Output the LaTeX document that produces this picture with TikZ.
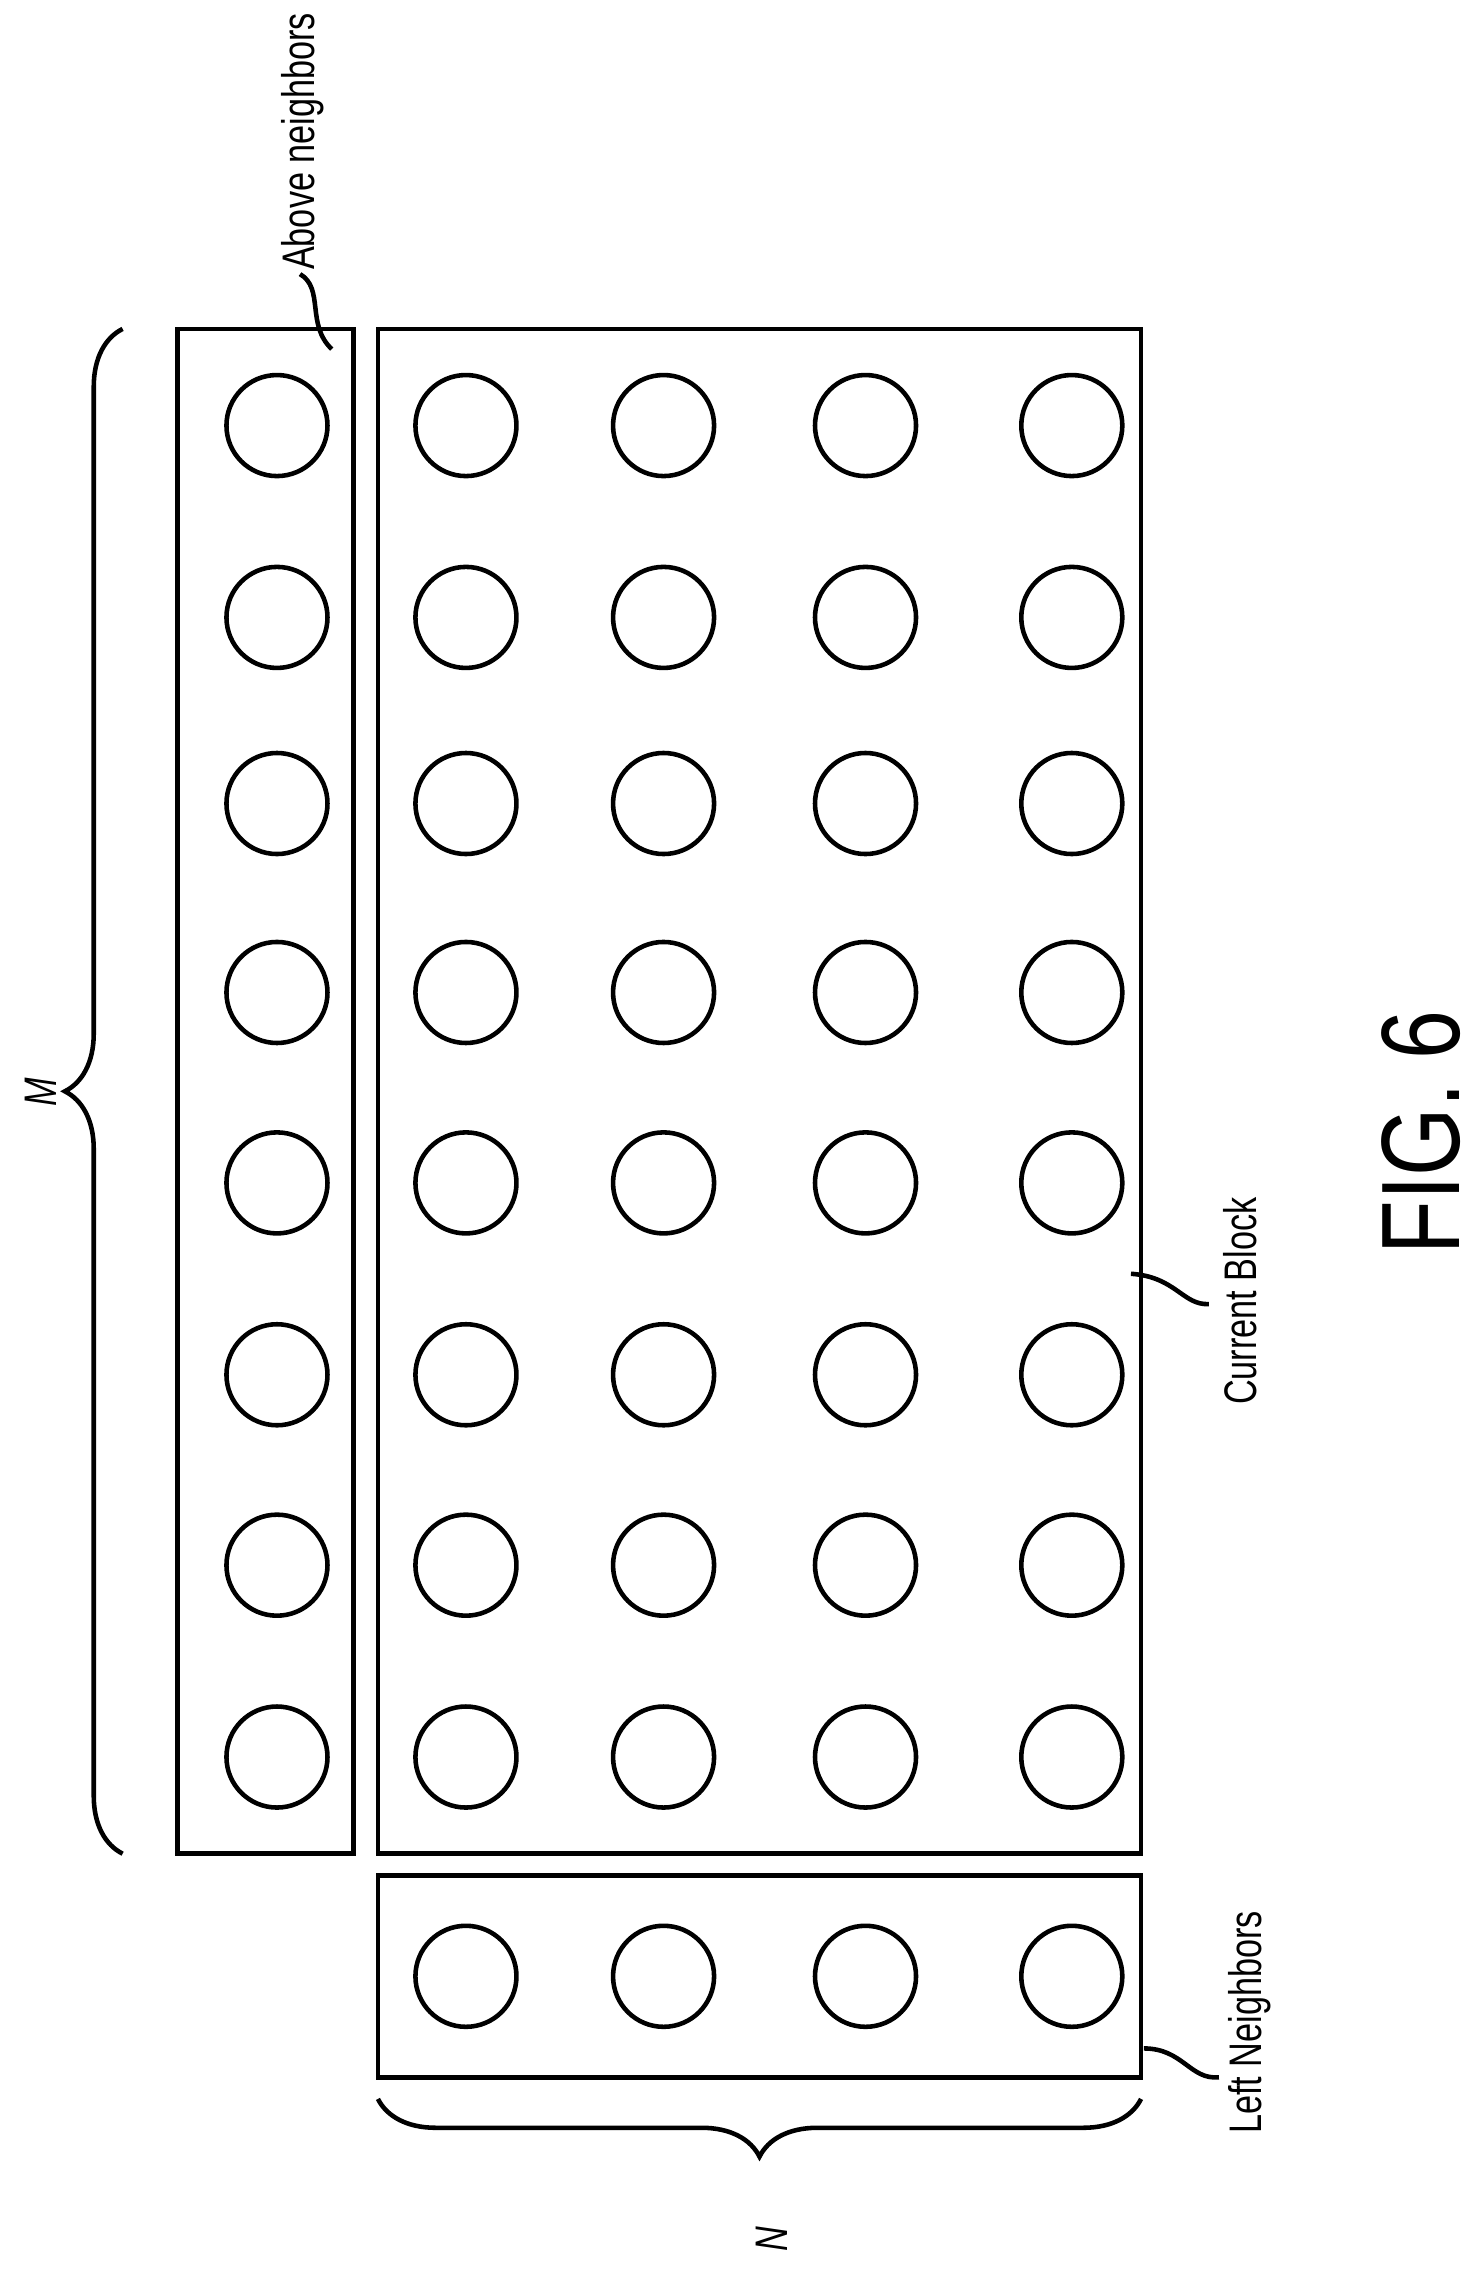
\documentclass[tikz,border=0pt]{standalone}
\usepackage{fontspec}
\setmainfont{Liberation Sans}
\usetikzlibrary{decorations.pathreplacing}
\tikzset{every picture/.style={line width=0.9pt}}
\tikzset{pixel/.style={circle,draw,minimum size=0.7cm,inner sep=0pt},
  lbl/.style={rotate=90,xscale=0.75,font=\fontsize{9}{11}\selectfont,inner sep=0pt}}

\begin{document}
\begin{tikzpicture}[x=0.01cm,y=-0.01cm]
		\useasboundingbox (0,0) rectangle (1024,1575);

		% boxes
		\draw (123,228) rectangle (245,1285);
		\draw (262,228) rectangle (791,1285);
		\draw (262,1300) rectangle (791,1440);

		% samples
		\foreach \r [count=\i] in {295,428,557,688,820,953,1085,1218} {
			\node[pixel] (a\i) at (192,\r) {};
			\foreach \c [count=\j] in {323,460,600,743}
				\node[pixel] (c\i\j) at (\c,\r) {};
		}
		\foreach \c [count=\j] in {323,460,600,743}
			\node[pixel] (l\j) at (\c,1370) {};

		% braces
		\draw[decorate,decoration={brace,amplitude=0.4cm}] (85,1285) -- (85,228);
		\node[lbl] (M) at (28,757) {\textit{M}};
		\draw[decorate,decoration={brace,amplitude=0.4cm}] (791,1455) -- (262,1455);
		\node[lbl] (N) at (535,1552) {\textit{N}};

		% labels
		\node[lbl] (above) at (210,98) {Above neighbors};
		\draw (230,242) .. controls (212,225) and (225,200) .. (208,190);
		\node[lbl] (cur) at (860,902) {Current Block};
		\draw (784,883) .. controls (815,885) and (820,905) .. (838,904);
		\node[lbl] (left) at (866,1402) {Left Neighbors};
		\draw (793,1420) .. controls (820,1420) and (825,1442) .. (845,1440);
		\node[lbl,xscale=1.05,font=\fontsize{22}{26}\selectfont] (fig) at (985,785) {FIG. 6};
	\end{tikzpicture}
\end{document}
